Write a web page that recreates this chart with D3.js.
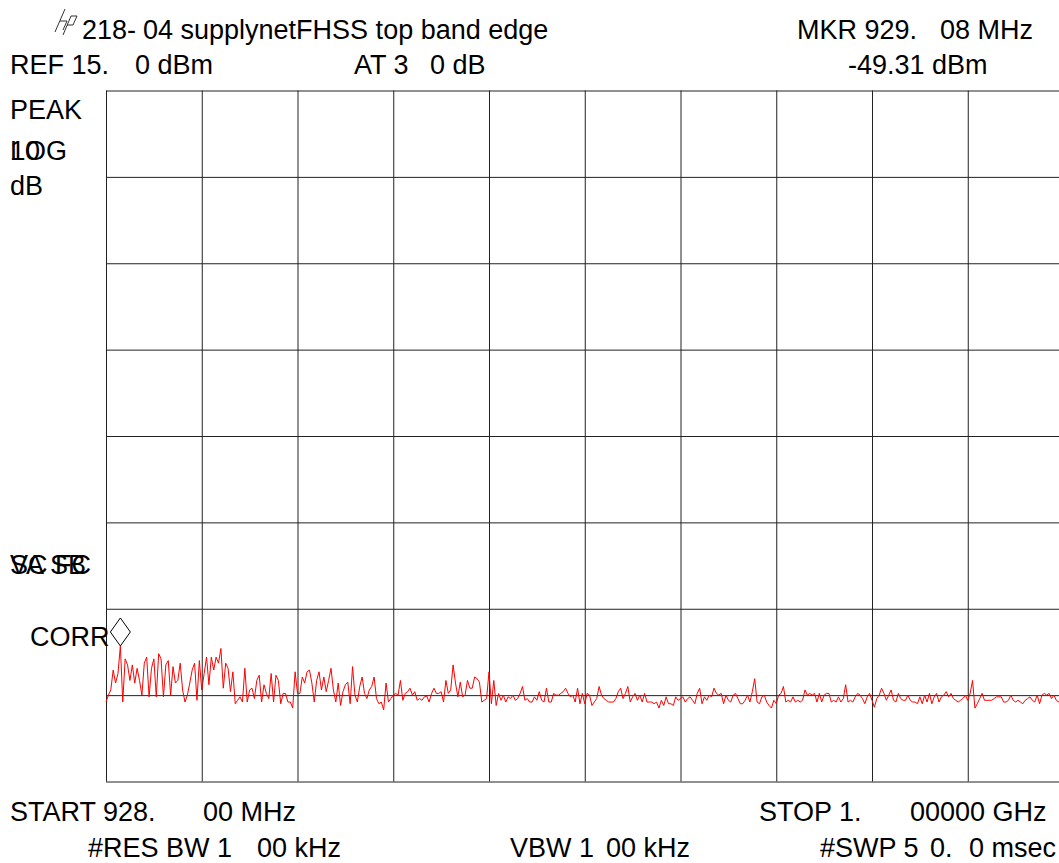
<!DOCTYPE html>
<html>
<head>
<meta charset="utf-8">
<script src="https://cdn.jsdelivr.net/npm/d3@7"></script>
<style>
  html, body { margin: 0; padding: 0; background: #fff; overflow: hidden; }
  svg { display: block; }
  text { font-family: "Liberation Sans", Arial, sans-serif; font-size: 27px; fill: #000; white-space: pre; }
</style>
</head>
<body>
<svg id="chart" width="1059" height="863"></svg>
<script>
// ---- data ----
const startFreqMHz = 928;
const stopFreqMHz = 1000;
const refLevelDbm = 15;
const dbPerDiv = 10;
const yDivisions = 8;
const xDivisions = 10;
const markerFreqMHz = 929.08;
const markerLevelDbm = -49.31;

// trace levels (dBm), 401 sweep points
const traceSeg1 = [
  -55.8,-55.0,-54.4,-52.1,-53.6,-52.5,-49.31,-55.8,-50.8,-51.5,
  -53.3,-51.5,-53.6,-51.9,-53.3,-55.0,-51.3,-50.6,-55.2,-51.9,
  -50.8,-55.2,-50.2,-50.8,-55.2,-51.5,-51.0,-55.0,-51.7,-53.6,
  -53.3,-51.3,-54.4,-55.8,-55.0,-53.6,-52.1,-51.3,-55.6,-51.0,
  -54.4,-52.5,-50.6,-53.8,-50.6,-52.1,-50.6,-51.3,-49.6,-54.2,
  -51.3,-51.9,-54.6,-52.3,-56.0,-55.6,-55.2,-55.8,-51.9,-55.8,
  -54.4,-54.2,-55.4,-53.3,-52.7,-55.8,-53.8,-54.8,-55.4,-52.5,
  -55.8,-52.7,-53.3,-56.0,-54.8,-54.8,-55.8,-55.8,-56.5,-52.3,
  -54.8,-54.8,-52.9,-53.6,-52.3,-52.1,-53.6,-55.8,-53.3,-52.3,
  -54.4,-52.9,-54.6,-53.3,-51.9,-54.4,-55.8,-53.6,-56.2,-54.6,
  -53.8,-53.5,-56.0,-51.7,-55.0,-55.8,-54.0,-52.9,-54.8,-55.4,
  -54.4,-54.0,-52.9,-55.4,-56.0,-55.8,-56.7,-53.6,-55.8,-55.4,
  -55.0,-54.8,-55.0,-53.3,-55.6,-54.8,-54.6,-54.2,-55.0,-54.6,
  -55.6,-55.4,-55.6
];
const traceSeg2 = [
  -55.2,-55.1,-55.8,-54.8,-54.2,-54.8,-54.8,-54.6,-55.8,-53.3,
  -54.8,-54.4,-51.5,-53.6,-55.2,-53.5,-55.2,-55.0,-53.3,-54.2,
  -54.2,-52.9,-53.1,-53.5,-55.8,-55.6,-55.4,-52.3,-56.0,-53.3,
  -56.2,-54.8,-55.6,-55.0,-55.8,-55.2,-55.4,-55.0,-55.6,-55.4,
  -54.8,-54.0,-55.6,-55.4,-55.8,-55.8,-55.2,-55.6,-54.6,
  -55.6,-55.8,-54.2,-55.8,-55.8,-54.8,-55.0,-55.0,-54.8,-54.6,
  -54.2,-54.8,-55.2,-55.0,-55.8,-54.2,-56.0,-54.8,-56.0,-54.8,
  -55.0,-56.2,-55.8,-55.4,-54.0,-55.0,-55.4,-55.6,-55.8,
  -55.8,-55.8,-55.4,-54.6,-54.2,-55.4,-54.8,-54.0,-55.8,
  -55.2,-54.8,-55.6,-55.0,-55.8,-54.8,-55.8,-55.8,-55.8,-56.0,
  -55.8,-56.5,-55.6,-56.2,-55.2,-56.0,-56.0,-56.2,-55.2,
  -55.6,-55.4,-55.2,-55.8,-55.4,-55.2,-55.6,-56.0,-54.8,-54.2,
  -56.0,-55.2,-55.6,-55.0,-55.2,-54.2,-54.8,-55.0,-54.8,-56.0,
  -55.0,-55.6,-55.8,-55.0,-54.8,-55.4
];
const traceSeg3 = [
  -56.0,-56.0,-55.6,-55.0,-55.8,-54.6,-53.1,-55.8,-56.0,
  -55.2,-55.0,-55.8,-56.2,-56.5,-55.6,-56.0,-55.0,-54.8,-54.0,
  -55.8,-55.6,-55.8,-55.2,-55.8,-55.6,-55.8,-55.6,-54.4,
  -55.0,-54.8,-55.0,-54.8,-55.8,-54.8,-55.8,-55.0,-54.8,-54.8,
  -55.8,-55.6,-55.8,-55.2,-55.8,-55.4,-53.8,-55.8,-55.6,-55.8,
  -55.2,-54.8,-55.0,-55.4,-56.0,-55.2,-54.8,-55.6,-56.4,
  -55.4,-55.0,-54.2,-54.8,-55.6,-55.0,-54.4,-55.6,-55.8,-54.8,
  -55.4,-55.6,-55.6,-55.0,-55.6,-55.8,-55.8,-56.0,-55.2,
  -56.0,-55.0,-55.8,-54.8,-56.0,-55.2,-54.8,-55.8,-55.2,-55.0,
  -54.6,-55.2,-54.8,-55.4,-55.6,-55.8,-55.6,-55.4,-55.0,
  -55.6,-54.8,-53.3,-56.5,-56.0,-55.4,-54.8,-55.6,-55.6,-55.6,
  -55.6,-55.4,-55.2,-55.2,-55.2,-55.8,-55.8,-55.6,
  -55.0,-55.6,-55.8,-55.6,-55.8,-56.0,-55.6,-55.4,-55.2,-55.6,
  -55.8,-55.0,-56.0,-55.0,-54.8,-55.0,-54.8,-55.4,-55.0,-55.6,-55.8,
  -55.4,-55.2
];
const traceLevels = traceSeg1.concat(traceSeg2, traceSeg3);

// annotation texts
const titleText = "218-";
const titleText2 = "04 supplynetFHSS top band edge";
const markerLabel = ["MKR 929.", "08 MHz"];
const markerValueLabel = "-49.31 dBm";
const refLabel = ["REF 15.", "0 dBm"];
const attenLabel = ["AT 3", "0 dB"];
const leftLabels = ["PEAK", "LOG", "10", "dB", "VA SB", "SC FC", "CORR"];
const bottomLabels1 = ["START 928.", "00 MHz", "STOP 1.", "00000 GHz"];
const bottomLabels2 = ["#RES BW 1", "00 kHz", "VBW 1", "00 kHz", "#SWP 5", "0.", "0 msec"];

// ---- drawing ----
const svg = d3.select("#chart");
const plot = { left: 106, top: 90.5, right: 1063.5, bottom: 781.5 };

const x = d3.scaleLinear().domain([startFreqMHz, stopFreqMHz]).range([plot.left, plot.right]);
const y = d3.scaleLinear()
  .domain([refLevelDbm - dbPerDiv * yDivisions, refLevelDbm])
  .range([plot.bottom, plot.top]);

const xTicks = d3.range(xDivisions + 1).map(i => startFreqMHz + i * (stopFreqMHz - startFreqMHz) / xDivisions);
const yTicks = d3.range(yDivisions + 1).map(i => refLevelDbm - i * dbPerDiv);

// vertical grid
const gx = svg.append("g")
  .attr("transform", `translate(0,${plot.bottom})`)
  .call(d3.axisBottom(x).tickValues(xTicks).tickSize(-(plot.bottom - plot.top)).tickFormat(""));
gx.select(".domain").remove();
gx.selectAll(".tick line").attr("stroke", "#222").attr("stroke-width", 1);

// horizontal grid
const gy = svg.append("g")
  .attr("transform", `translate(${plot.left},0)`)
  .call(d3.axisLeft(y).tickValues(yTicks).tickSize(-(plot.right - plot.left)).tickFormat(""));
gy.select(".domain").remove();
gy.selectAll(".tick line").attr("stroke", "#222").attr("stroke-width", 1);

// trace
const n = traceLevels.length;
const freqAt = i => startFreqMHz + i * (stopFreqMHz - startFreqMHz) / (n - 1);
const line = d3.line().x((d, i) => x(freqAt(i))).y(d => y(d));
svg.append("path")
  .datum(traceLevels)
  .attr("fill", "none")
  .attr("stroke", "#ff0000")
  .attr("stroke-width", 1)
  .attr("d", line);

// marker diamond
const mx = x(markerFreqMHz), my = y(markerLevelDbm);
svg.append("path")
  .attr("d", `M${mx},${my} L${mx - 10},${my - 14} L${mx},${my - 28} L${mx + 10},${my - 14} Z`)
  .attr("fill", "#fff")
  .attr("stroke", "#000")
  .attr("stroke-width", 1);

// hp logo
const logo = svg.append("g").attr("fill", "none").attr("stroke", "#333").attr("stroke-width", 1);
logo.append("path").attr("d", "M55,32 L65,9");
logo.append("path").attr("d", "M60,21 L67,21 L63,30");
logo.append("path").attr("d", "M63,35 L71,16 L77,16 L73,25 L67,25");

// texts
function label(t, xPos, yPos) {
  svg.append("text").attr("x", xPos).attr("y", yPos).text(t);
}
label(titleText, 82, 39);
label(titleText2, 143, 39);
label(markerLabel[0], 797, 39);
label(markerLabel[1], 940, 39);
label(refLabel[0], 10, 74);
label(refLabel[1], 135, 74);
label(attenLabel[0], 354, 74);
label(attenLabel[1], 430, 74);
label(markerValueLabel, 848, 74);

label(leftLabels[0], 10, 119);
label(leftLabels[1], 10, 160);
label(leftLabels[2], 10, 160);
label(leftLabels[3], 10, 195);
label(leftLabels[4], 10, 574);
label(leftLabels[5], 10, 574);
label(leftLabels[6], 30, 646);

label(bottomLabels1[0], 10, 821);
label(bottomLabels1[1], 203, 821);
label(bottomLabels1[2], 759, 821);
label(bottomLabels1[3], 910, 821);
label(bottomLabels2[0], 88, 857);
label(bottomLabels2[1], 257, 857);
label(bottomLabels2[2], 510, 857);
label(bottomLabels2[3], 606, 857);
label(bottomLabels2[4], 820, 857);
label(bottomLabels2[5], 930, 857);
label(bottomLabels2[6], 969, 857);
</script>
</body>
</html>
